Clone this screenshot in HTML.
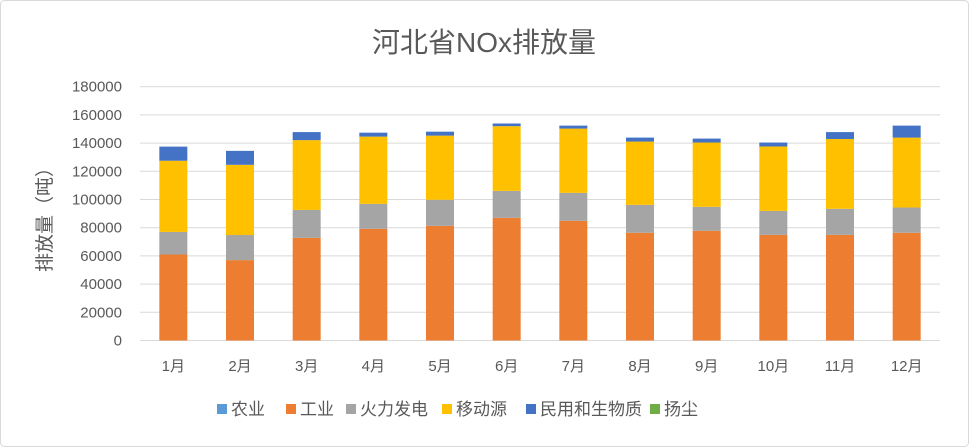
<!DOCTYPE html>
<html><head><meta charset="utf-8"><style>
body{margin:0;background:#fff;font-family:"Liberation Sans","Noto Sans CJK SC",sans-serif;}
#c{position:absolute;left:0;top:0;width:969px;height:447px;}
</style></head><body>
<svg id="c" width="969" height="447" xmlns="http://www.w3.org/2000/svg">
<rect x="0.5" y="0.5" width="968" height="446" rx="4" fill="#fff" stroke="#d9d9d9"/>
<text x="484" y="52" text-anchor="middle" font-size="28" fill="#595959" font-family="Liberation Sans, Noto Sans CJK SC, sans-serif">河北省NOx排放量</text>
<text transform="translate(51,215) rotate(-90)" text-anchor="middle" font-size="19" fill="#595959" font-family="Liberation Sans, Noto Sans CJK SC, sans-serif">排放量（吨）</text>
<g id="grid"></g><g id="bars"></g><g id="xl"></g><g id="leg"></g>
</svg>
<script>
const months=["1月","2月","3月","4月","5月","6月","7月","8月","9月","10月","11月","12月"];
const agri=[0,0,0,0,0,0,0,0,0,0,0,0];
const industry=[61000,57000,72800,79200,81300,87000,84900,76400,77800,74900,74900,76400];
const power=[16000,17800,19800,17700,18500,19100,19800,19800,17000,17000,18500,17900];
const mobile=[50500,49800,49500,47700,45500,45900,45600,44900,45600,45700,49500,49600];
const resident=[10000,9900,5700,2800,2800,1900,2100,2800,2800,2800,4900,8500];
const dust=[0,0,0,0,0,0,0,0,0,0,0,0];
const yTicks=[0,20000,40000,60000,80000,100000,120000,140000,160000,180000];
const seriesNames=["农业","工业","火力发电","移动源","民用和生物质","扬尘"];
const NS="http://www.w3.org/2000/svg";
const series=[agri,industry,power,mobile,resident,dust];
const colors=["#5b9bd5","#ed7d31","#a5a5a5","#ffc000","#4472c4","#70ad47"];
const x0=140,x1=940,y0=340.5,y1=86.7,yMax=180000;
const band=(x1-x0)/months.length,bw=28;
const ys=v=>y0-(v/yMax)*(y0-y1);
const xc=i=>x0+band*(i+0.5);
function mk(t,a,p){const e=document.createElementNS(NS,t);for(const k in a)e.setAttribute(k,a[k]);p.appendChild(e);return e;}
const grid=document.getElementById('grid');
yTicks.forEach(v=>{
 const l=mk('line',{x1:x0,x2:x1,y1:ys(v),y2:ys(v),stroke:'#d9d9d9','stroke-width':1},grid);
 
 
 const t=mk('text',{x:122,y:ys(v)+5,'text-anchor':'end','font-size':15,fill:'#595959'},grid);
 t.textContent=v;
 
 
});
const bars=document.getElementById('bars');
months.forEach((m,i)=>{
 let acc=0;
 series.forEach((s,k)=>{
  const v=s[i];if(v<=0){return;}
  const r=mk('rect',{x:xc(i)-bw/2,y:ys(acc+v),width:bw,height:ys(acc)-ys(acc+v),fill:colors[k]},bars);
  
  
  acc+=v;
 });
 const t=mk('text',{x:xc(i),y:371,'text-anchor':'middle','font-size':15,fill:'#595959'},document.getElementById('xl'));
 t.textContent=m;
 
 
});
const leg=document.getElementById('leg');
const lx=[217,286,346,442,526,650];
seriesNames.forEach((n,k)=>{
 const g=mk('g',{},leg);
 
 
 mk('rect',{x:lx[k],y:404,width:10,height:10,fill:colors[k]},g);
 const t=mk('text',{x:lx[k]+14,y:415,'font-size':17,fill:'#595959'},g);
 t.textContent=n;
});
</script>
</body></html>
